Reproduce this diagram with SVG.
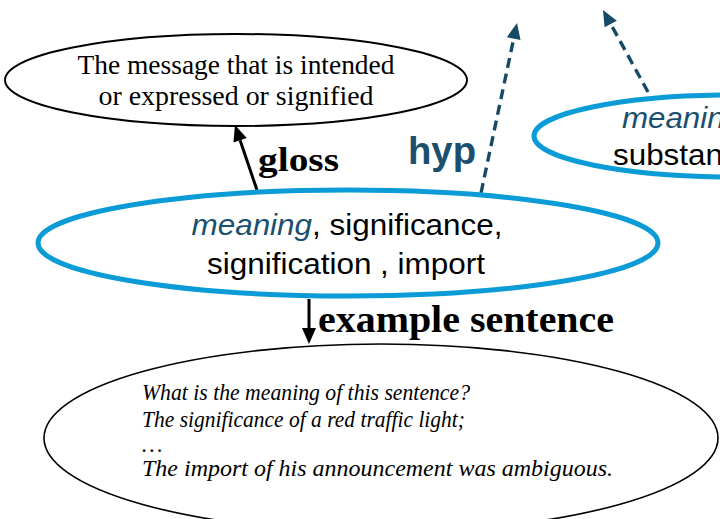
<svg xmlns="http://www.w3.org/2000/svg" width="720" height="519" viewBox="0 0 720 519">
  <style>
    .serif { font-family: "Liberation Serif", "Times New Roman", serif; fill: #000; }
    .sans { font-family: "Liberation Sans", Arial, sans-serif; fill: #000; }
    .gloss-node { fill: #fff; stroke: #000; stroke-width: 2; }
    .synset { fill: #fff; stroke: #0b9bd7; stroke-width: 5; }
    .example-node { fill: #fff; stroke: #000; stroke-width: 1.6; }
    .lemma { font-style: italic; fill: #1b4f6e; }
    .solid-edge { stroke: #000; stroke-width: 3; fill: none; }
    .dashed-edge { stroke: #174a66; stroke-width: 3.4; fill: none; stroke-dasharray: 10 6; }
  </style>
  <defs>
    <marker id="head-black" markerUnits="userSpaceOnUse" markerWidth="18" markerHeight="16" refX="0" refY="7" orient="auto" overflow="visible">
      <path d="M0,0 L16,7 L0,14 z" fill="#000"/>
    </marker>
    <marker id="head-teal" markerUnits="userSpaceOnUse" markerWidth="18" markerHeight="16" refX="0" refY="7" orient="auto" overflow="visible">
      <path d="M0,0 L16,7 L0,14 z" fill="#174a66"/>
    </marker>
  </defs>

  <rect width="720" height="519" fill="#fff"/>

  <!-- connectors -->
  <g id="connectors">
    <line class="solid-edge" x1="257" y1="190" x2="240.1" y2="140.2" marker-end="url(#head-black)"/>
    <line class="dashed-edge" x1="481" y1="193" x2="513.7" y2="38.6" marker-end="url(#head-teal)"/>
    <line class="dashed-edge" x1="648" y1="92" x2="610.7" y2="24" marker-end="url(#head-teal)"/>
    <line class="solid-edge" x1="309" y1="299" x2="309" y2="328" marker-end="url(#head-black)"/>
    <text class="serif" x="258" y="171" font-size="34" font-weight="bold" textLength="81" lengthAdjust="spacingAndGlyphs">gloss</text>
    <text class="sans" x="408" y="164" font-size="38" font-weight="bold" style="fill:#1b4f6e" textLength="68" lengthAdjust="spacingAndGlyphs">hyp</text>
    <text class="serif" x="318" y="332" font-size="38" font-weight="bold" textLength="296" lengthAdjust="spacingAndGlyphs">example sentence</text>
  </g>

  <!-- definition -->
  <g id="gloss">
    <ellipse class="gloss-node" cx="236" cy="80" rx="231" ry="46"/>
    <text class="serif" x="236" y="74" font-size="27" text-anchor="middle" textLength="317" lengthAdjust="spacingAndGlyphs">The message that is intended</text>
    <text class="serif" x="236" y="105" font-size="27" text-anchor="middle" textLength="275" lengthAdjust="spacingAndGlyphs">or expressed or signified</text>
  </g>

  <!-- hypernym synset, running off the right edge -->
  <g id="hypernym">
    <ellipse class="synset" cx="734" cy="136" rx="200" ry="41"/>
    <text class="sans lemma" x="622" y="128" font-size="29" textLength="120" lengthAdjust="spacingAndGlyphs">meaning</text>
    <text class="sans" x="613" y="165" font-size="29" textLength="143" lengthAdjust="spacingAndGlyphs">substance</text>
  </g>

  <!-- synset -->
  <g id="synset">
    <ellipse class="synset" cx="348" cy="243" rx="310" ry="53"/>
    <text class="sans" x="347" y="235" font-size="30" text-anchor="middle" textLength="311" lengthAdjust="spacingAndGlyphs"><tspan class="lemma">meaning</tspan>, significance,</text>
    <text class="sans" x="346" y="274" font-size="30" text-anchor="middle" textLength="278" lengthAdjust="spacingAndGlyphs">signification , import</text>
  </g>

  <!-- usage examples -->
  <g id="examples">
    <ellipse class="example-node" cx="381" cy="438" rx="337" ry="94"/>
    <g class="serif" font-size="23" font-style="italic">
      <text x="142" y="400" textLength="328" lengthAdjust="spacingAndGlyphs">What is the meaning of this sentence?</text>
      <text x="142" y="427" textLength="323" lengthAdjust="spacingAndGlyphs">The significance of a red traffic light;</text>
      <text x="142" y="452">…</text>
      <text x="142" y="476" textLength="471" lengthAdjust="spacingAndGlyphs">The import of his announcement was ambiguous.</text>
    </g>
  </g>
</svg>
